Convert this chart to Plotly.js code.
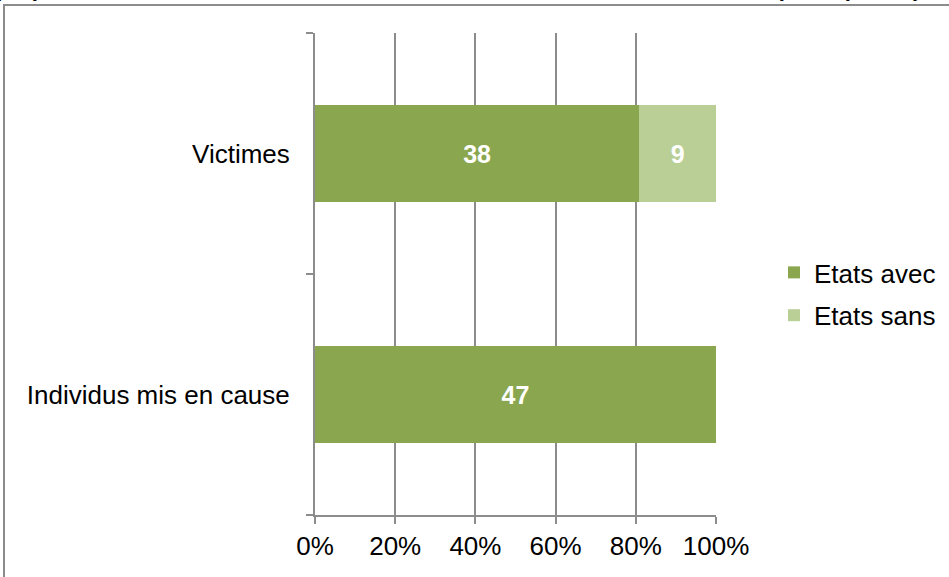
<!DOCTYPE html>
<html>
<head>
<meta charset="utf-8">
<script src="https://cdn.plot.ly/plotly-3.0.1.min.js"></script>
<style>
html,body{margin:0;padding:0;width:949px;height:577px;overflow:hidden;background:#fff;}
#chart{position:absolute;left:0;top:0;width:949px;height:577px;}
#frame{position:absolute;left:3px;top:4px;width:1200px;height:1200px;border:2px solid #8c8c8c;pointer-events:none;}
</style>
</head>
<body>
<div id="chart"></div>
<div id="frame"></div>
<script>
const categories = ["Individus mis en cause", "Victimes"];
const seriesNames = ["Etats avec", "Etats sans"];
const avecValues = [47, 38];
const sansValues = [0, 9];
const xTickVals = [0, 0.2, 0.4, 0.6, 0.8, 1.0];
const xTickText = ["0%", "20%", "40%", "60%", "80%", "100%"];
const titleText = "Répartition proportionnelle des victimes et des individus mis en cause selon les Etats participants (N, %)";

const FONT = "Liberation Sans, Arial, sans-serif";
const labelOf = v => (v > 0 ? String(v) : "");

const traces = [
  {
    type: "bar", orientation: "h", name: seriesNames[0], legendgroup: "a",
    y: categories, x: avecValues,
    text: avecValues.map(labelOf), textposition: "inside", insidetextanchor: "middle",
    texttemplate: "%{text}",
    textfont: {family: FONT, size: 25, color: "#ffffff", weight: "bold"},
    marker: {color: "#8aa64e"}, width: 0.4, hoverinfo: "skip"
  },
  {
    type: "bar", orientation: "h", name: seriesNames[1], legendgroup: "b",
    y: categories, x: sansValues,
    text: sansValues.map(labelOf), textposition: "inside", insidetextanchor: "middle",
    texttemplate: "%{text}",
    textfont: {family: FONT, size: 25, color: "#ffffff", weight: "bold"},
    marker: {color: "#b9cf95"}, width: 0.4, hoverinfo: "skip"
  }
];

const layout = {
  width: 949, height: 577,
  margin: {l: 315, r: 233, t: 33, b: 62, pad: 0, autoexpand: false},
  paper_bgcolor: "#ffffff", plot_bgcolor: "#ffffff",
  barmode: "stack", barnorm: "fraction",
  showlegend: true,
  legend: {
    xref: "container", yref: "container",
    x: 0.8156, xanchor: "left", y: 0.4905, yanchor: "middle",
    font: {family: FONT, size: 26, color: "#000"},
    itemwidth: 30, tracegroupgap: 6, traceorder: "grouped",
    borderwidth: 0, bgcolor: "rgba(0,0,0,0)"
  },
  font: {family: FONT, size: 26, color: "#000"},
  xaxis: {
    range: [0, 1], tickvals: xTickVals, ticktext: xTickText,
    showgrid: true, gridcolor: "#8c8c8c", gridwidth: 2,
    zeroline: false, showline: true, linecolor: "#8c8c8c", linewidth: 2,
    ticks: "outside", ticklen: 7, tickcolor: "#8c8c8c", tickwidth: 2,
    tickfont: {family: FONT, size: 26, color: "#000"},
    automargin: false, fixedrange: true
  },
  yaxis: {
    type: "category", categoryorder: "array", categoryarray: categories,
    range: [-0.5, 1.5], tickson: "boundaries",
    showgrid: false, zeroline: false, showline: true, linecolor: "#8c8c8c", linewidth: 2,
    ticks: "outside", ticklen: 7, tickcolor: "#8c8c8c", tickwidth: 2,
    tickfont: {family: FONT, size: 26, color: "#000"},
    ticklabelstandoff: 18,
    automargin: false, fixedrange: true
  },
  annotations: [{
    text: "<b>" + titleText + "</b>",
    xref: "paper", yref: "paper", x: 0.27, y: 1.062, xanchor: "center", yanchor: "bottom",
    showarrow: false, font: {family: FONT, size: 22, color: "#000"}
  }]
};

Plotly.newPlot("chart", traces, layout, {displayModeBar: false, staticPlot: true});
</script>
</body>
</html>
